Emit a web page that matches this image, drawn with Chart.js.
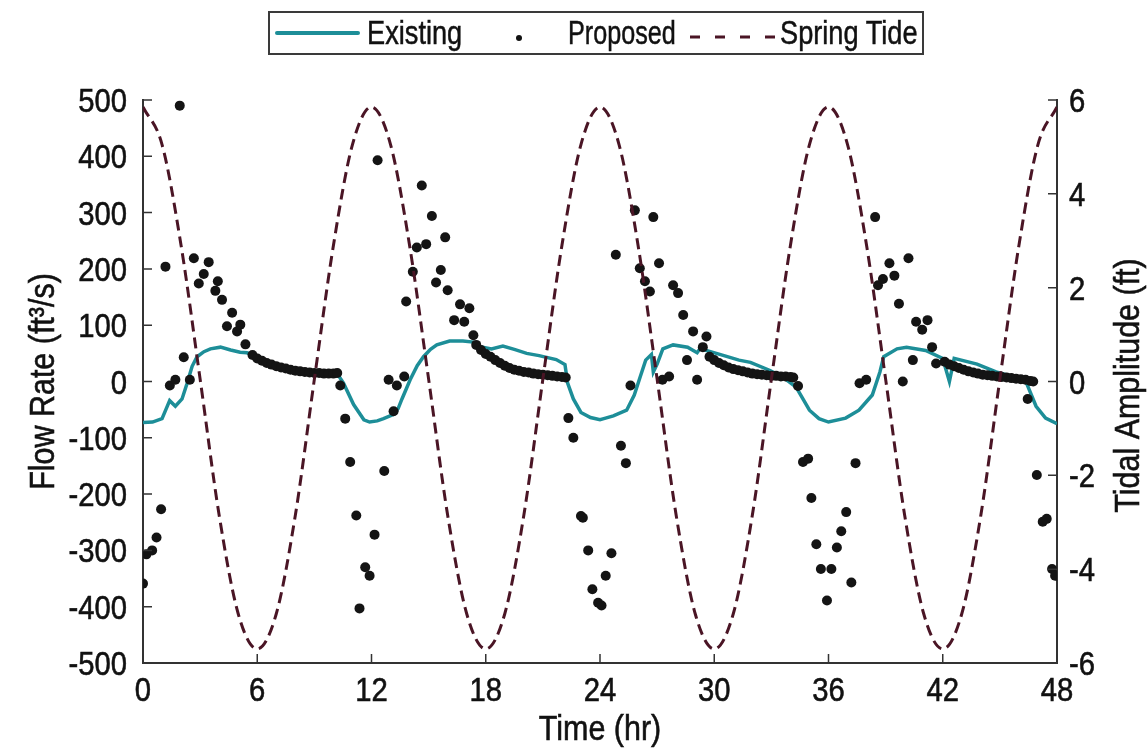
<!DOCTYPE html>
<html>
<head>
<meta charset="utf-8">
<title>Flow Rate and Tidal Amplitude</title>
<script src="https://cdn.jsdelivr.net/npm/chart.js@4.4.1/dist/chart.umd.min.js"></script>
<style>
    body { margin: 0; background: #fff; }
    #wrap {
        position: relative;
        width: 1148px;
        height: 749px;
        font-family: 'Liberation Sans', Arial, sans-serif;
        color: #111;
    }
    #flowChart { position: absolute; left: 0; top: 0; }
    .legend-box {
        position: absolute;
        left: 268px; top: 11px;
        width: 652px; height: 40px;
        border: 2px solid #3a3a3a;
    }
    .legend-text {
        position: absolute;
        top: 15px;
        font-size: 34px;
        line-height: 34px;
        white-space: nowrap;
        transform: scaleX(0.8);
        transform-origin: left center;
        -webkit-text-stroke: 0.5px #111;
    }
    .legend-line {
        position: absolute;
        left: 275px; top: 31px;
        width: 85px; height: 4px;
        background: #1d8e98;
        border-radius: 2px;
    }
    .legend-dot {
        position: absolute;
        left: 516px; top: 35px;
        width: 6px; height: 6px;
        border-radius: 50%;
        background: #111;
    }
    .legend-dash { position: absolute; left: 690px; top: 33px; }
</style>
</head>
<body>
<div id="wrap">
    <canvas id="flowChart" width="1148" height="749"></canvas>
    <div class="legend-box"></div>
    <div class="legend-line"></div>
    <div class="legend-text" style="left:367px">Existing</div>
    <div class="legend-dot"></div>
    <div class="legend-text" style="left:568px; transform: scaleX(0.74)">Proposed</div>
    <svg class="legend-dash" width="86" height="8">
        <line x1="0" y1="4" x2="86" y2="4" stroke="#4a1525" stroke-width="3" stroke-dasharray="10 15"/>
    </svg>
    <div class="legend-text" style="left:780px">Spring Tide</div>
</div>
<script>
// Tick labels
const timeTicks = [0, 6, 12, 18, 24, 30, 36, 42, 48];
const flowTicks = [-500, -400, -300, -200, -100, 0, 100, 200, 300, 400, 500];
const tideTicks = [-6, -4, -2, 0, 2, 4, 6];

// Existing flow rate (ft3/s) vs time (hr)
const existingHours = [
    0, 0.5, 1.0, 1.2, 1.4, 1.7, 2.05, 2.3, 2.58, 2.84, 3.2, 3.54, 4.07, 4.6, 5.1, 5.46,
    6.0, 6.5, 7.04, 7.6, 8.1, 9.1, 10.2, 10.53, 11.06, 11.6, 11.9, 12.3, 12.63, 13.2, 13.4, 13.6,
    14.03, 14.4, 14.73, 15.1, 15.43, 16.1, 16.8, 17.35, 17.7, 18.3, 18.9, 19.5, 20.15, 20.8, 21.7, 22.16,
    22.3, 22.6, 23.0, 23.5, 24.0, 24.2, 24.7, 25.4, 25.8, 26.1, 26.4, 26.7, 26.8, 27.0, 27.3, 27.84,
    28.6, 29.1, 29.25, 29.8, 30.6, 31.3, 31.9, 32.9, 33.6, 34.3, 35.0, 35.5, 36.0, 36.9, 37.6, 38.3,
    38.7, 38.9, 39.6, 40.1, 41.1, 42.0, 42.35, 42.6, 43.8, 44.8, 45.9, 46.4, 46.9, 47.4, 48
];
const existingFlow = [
    -73, -72, -66, -50, -34, -44, -31, -5, 27, 44, 53, 58, 61, 56, 52, 51,
    44, 35, 28, 23, 19, 16, 14, -3, -41, -68, -72, -70, -66, -58, -48, -31,
    3, 28, 44, 57, 65, 72, 72, 70, 62, 58, 63, 57, 50, 46, 39, 30,
    -3, -31, -55, -64, -68, -66, -61, -51, -24, 7, 38, 48, 17, 31, 58, 65,
    61, 51, 58, 53, 45, 38, 34, 20, 8, -10, -51, -66, -72, -65, -51, -24,
    17, 44, 58, 61, 55, 41, 0, 41, 31, 17, 7, -3, -44, -65, -75
];

// Proposed flow rate (ft3/s) vs time (hr)
const proposedHours = [
    0.0, 0.18, 0.48, 0.71, 0.95, 1.18, 1.41, 1.7, 1.93, 2.14, 2.46,
    2.67, 2.93, 3.19, 3.45, 3.8, 3.93, 4.15, 4.41, 4.68, 4.94, 5.11, 5.38,
    5.75, 6.0, 6.25, 6.5, 6.75, 7.0, 7.25, 7.5, 7.75, 8.0, 8.25, 8.5, 8.75, 9.0, 9.25, 9.5, 9.75, 10.0, 10.2,
    10.36, 10.62, 10.88, 11.2, 11.37, 11.67, 11.9, 12.16, 12.32, 12.67, 12.9, 13.16, 13.33, 13.72,
    13.82, 14.17, 14.38, 14.64, 14.87, 15.17, 15.39, 15.64, 15.87, 16.0, 16.34, 16.65, 16.87, 17.14, 17.35,
    17.5, 17.75, 18.0, 18.25, 18.5, 18.75, 19.0, 19.25, 19.5, 19.75, 20.0, 20.25, 20.5, 20.75, 21.0, 21.25, 21.5, 21.75, 22.0, 22.2,
    22.34, 22.6, 23.0, 23.1, 23.38, 23.6, 23.9, 24.08, 24.3, 24.6, 24.83, 25.1, 25.36, 25.6,
    25.83, 26.09, 26.36, 26.62, 26.8, 27.1, 27.28, 27.63, 27.84, 28.1, 28.37, 28.57, 28.89, 29.1, 29.4, 29.59,
    29.75, 30.0, 30.25, 30.5, 30.75, 31.0, 31.25, 31.5, 31.75, 32.0, 32.25, 32.5, 32.75, 33.0, 33.25, 33.5, 33.75, 34.0, 34.15,
    34.4, 34.66, 34.93, 35.1, 35.36, 35.6, 35.92, 36.15, 36.44, 36.67, 36.93, 37.2, 37.42, 37.63, 37.98,
    38.45, 38.6, 38.86, 39.2, 39.46, 39.7, 39.9, 40.2, 40.43, 40.6, 40.92, 41.2, 41.44, 41.65,
    42.1, 42.35, 42.6, 42.85, 43.1, 43.35, 43.6, 43.85, 44.1, 44.35, 44.6, 44.85, 45.1, 45.35, 45.6, 45.85, 46.1, 46.35, 46.6, 46.75,
    46.46, 46.94, 47.25, 47.46, 47.74, 47.9
];
const proposedFlow = [
    -359, -307, -300, -277, -227, 204, -7, 3, 490, 43, 3,
    219, 174, 191, 212, 161, 178, 145, 98, 122, 89, 101, 66,
    47, 41, 37, 33, 30, 27, 25, 23, 21, 19, 18, 17, 16, 15, 15, 14, 14, 14, 15,
    -7, -66, -143, -238, -403, -330, -345, -272, 393, -159, 3, -53, -7, 9,
    142, 195, 238, 348, 244, 294, 176, 198, 256, 162, 109, 137, 106, 130, 82,
    65, 56, 49, 44, 38, 33, 28, 24, 21, 19, 17, 16, 14, 13, 12, 11, 10, 9, 8, 7,
    -65, -100, -239, -242, -300, -369, -393, -398, -345, -305, 225, -114, -145, -7,
    304, 201, 178, 160, 292, 210, 3, 9, 171, 157, 118, 38, 89, 3, 61, 80,
    44, 38, 33, 29, 25, 22, 20, 18, 16, 14, 13, 12, 11, 10, 10, 9, 9, 8, 7,
    -8, -143, -137, -207, -289, -333, -389, -333, -295, -266, -232, -357, -145, -3, 3,
    292, 171, 182, 210, 188, 138, 0, 219, 38, 106, 92, 109, 61, 32,
    35, 30, 27, 24, 21, 18, 16, 14, 12, 11, 10, 9, 8, 7, 6, 5, 4, 3, 1, 0,
    -31, -166, -249, -244, -333, -345
];

// Spring tide amplitude (ft) vs time (hr)
const tideHours = [
    0, 1, 2, 3, 4, 5, 6, 7, 8, 9, 10, 11, 12, 13, 14, 15, 16, 17, 18, 19, 20, 21, 22, 23, 24,
    25, 26, 27, 28, 29, 30, 31, 32, 33, 34, 35, 36, 37, 38, 39, 40, 41, 42, 43, 44, 45, 46, 47, 48
];
const tideAmplitude = [
    5.85, 5.05, 2.9, 0.05, -2.85, -4.95, -5.7, -4.95, -2.85, 0.05, 2.9, 5.05,
    5.85, 5.05, 2.9, 0.05, -2.85, -4.95, -5.7, -4.95, -2.85, 0.05, 2.9, 5.05,
    5.85, 5.05, 2.9, 0.05, -2.85, -4.95, -5.7, -4.95, -2.85, 0.05, 2.9, 5.05,
    5.85, 5.05, 2.9, 0.05, -2.85, -4.95, -5.7, -4.95, -2.85, 0.05, 2.9, 5.05,
    5.85
];

const fontFamily = "'Liberation Sans', Arial, sans-serif";
const textColor = '#111';
const axisColor = '#333';

function toPoints(xs, ys) {
    return xs.map((x, i) => ({ x: x, y: ys[i] }));
}

function fixedTicks(values) {
    return scale => {
        scale.ticks = values.map(v => ({ value: v }));
    };
}

// Condensed text: squeeze along the writing direction
function drawText(ctx, text, x, y, opts) {
    ctx.save();
    ctx.translate(x, y);
    if (opts.rotate) ctx.rotate(opts.rotate);
    ctx.scale(opts.squeeze, 1);
    ctx.font = opts.size + 'px ' + fontFamily;
    ctx.textAlign = opts.align;
    ctx.textBaseline = 'alphabetic';
    ctx.fillStyle = textColor;
    ctx.strokeStyle = textColor;
    ctx.lineWidth = 0.6;
    ctx.fillText(text, 0, 0);
    ctx.strokeText(text, 0, 0);
    ctx.restore();
}

// Inward tick marks, tick labels and axis titles
const axisExtras = {
    id: 'axisExtras',
    afterDraw(chart) {
        const { ctx, chartArea, scales } = chart;
        const len = 9;
        ctx.save();
        ctx.strokeStyle = axisColor;
        ctx.lineWidth = 1.5;
        ctx.beginPath();
        scales.x.ticks.forEach(t => {
            const px = scales.x.getPixelForValue(t.value);
            ctx.moveTo(px, chartArea.bottom);
            ctx.lineTo(px, chartArea.bottom - len);
        });
        scales.y.ticks.forEach(t => {
            const py = scales.y.getPixelForValue(t.value);
            ctx.moveTo(chartArea.left, py);
            ctx.lineTo(chartArea.left + len, py);
        });
        scales.y1.ticks.forEach(t => {
            const py = scales.y1.getPixelForValue(t.value);
            ctx.moveTo(chartArea.right, py);
            ctx.lineTo(chartArea.right - len, py);
        });
        ctx.stroke();
        ctx.restore();

        const tick = { size: 34, squeeze: 0.86 };
        const capHalf = 12;
        scales.x.ticks.forEach(t => {
            drawText(ctx, String(t.value), scales.x.getPixelForValue(t.value), 701,
                Object.assign({ align: 'center' }, tick));
        });
        scales.y.ticks.forEach(t => {
            drawText(ctx, String(t.value), 127, scales.y.getPixelForValue(t.value) + capHalf,
                Object.assign({ align: 'right' }, tick));
        });
        scales.y1.ticks.forEach(t => {
            drawText(ctx, String(t.value), 1069, scales.y1.getPixelForValue(t.value) + capHalf,
                Object.assign({ align: 'left' }, tick));
        });

        const midY = (chartArea.top + chartArea.bottom) / 2;
        const title = { size: 35, squeeze: 0.87, align: 'center' };
        drawText(ctx, 'Time (hr)', (chartArea.left + chartArea.right) / 2, 740, title);
        drawText(ctx, 'Flow Rate (ft³/s)', 54, midY, Object.assign({ rotate: -Math.PI / 2 }, title));
        drawText(ctx, 'Tidal Amplitude (ft)', 1139, midY + 4, Object.assign({ rotate: -Math.PI / 2 }, title));
    }
};

const whiteBackground = {
    id: 'whiteBackground',
    beforeDraw(chart) {
        const ctx = chart.ctx;
        ctx.save();
        ctx.fillStyle = '#fff';
        ctx.fillRect(0, 0, chart.width, chart.height);
        ctx.restore();
    }
};

const hiddenTicks = { display: false, autoSkip: false };
const noGrid = { display: false, drawTicks: false };
const axisBorder = { display: true, color: axisColor, width: 2 };

new Chart(document.getElementById('flowChart'), {
    type: 'line',
    data: {
        datasets: [
            {
                label: 'Existing',
                data: toPoints(existingHours, existingFlow),
                yAxisID: 'y',
                borderColor: '#1d8e98',
                borderWidth: 3.5,
                pointRadius: 0,
                tension: 0,
                order: 3
            },
            {
                type: 'scatter',
                label: 'Proposed',
                data: toPoints(proposedHours, proposedFlow),
                yAxisID: 'y',
                backgroundColor: '#141414',
                borderColor: '#141414',
                borderWidth: 0,
                pointRadius: 5,
                order: 2
            },
            {
                label: 'Spring Tide',
                data: toPoints(tideHours, tideAmplitude),
                yAxisID: 'y1',
                borderColor: '#4a1525',
                borderWidth: 3,
                borderDash: [11, 6],
                pointRadius: 0,
                cubicInterpolationMode: 'monotone',
                order: 1
            }
        ]
    },
    options: {
        responsive: false,
        animation: false,
        layout: { padding: { top: 100, left: 0, right: 0, bottom: 0 } },
        plugins: {
            legend: { display: false },
            tooltip: { enabled: false }
        },
        scales: {
            x: {
                type: 'linear',
                min: 0,
                max: 48,
                afterBuildTicks: fixedTicks(timeTicks),
                afterFit: scale => { scale.height = 86; },
                ticks: hiddenTicks,
                grid: noGrid,
                border: axisBorder
            },
            y: {
                position: 'left',
                min: -500,
                max: 500,
                afterBuildTicks: fixedTicks(flowTicks),
                afterFit: scale => { scale.width = 143; },
                ticks: hiddenTicks,
                grid: noGrid,
                border: axisBorder
            },
            y1: {
                position: 'right',
                min: -6,
                max: 6,
                afterBuildTicks: fixedTicks(tideTicks),
                afterFit: scale => { scale.width = 91; },
                ticks: hiddenTicks,
                grid: noGrid,
                border: axisBorder
            }
        }
    },
    plugins: [whiteBackground, axisExtras]
});
</script>
</body>
</html>
